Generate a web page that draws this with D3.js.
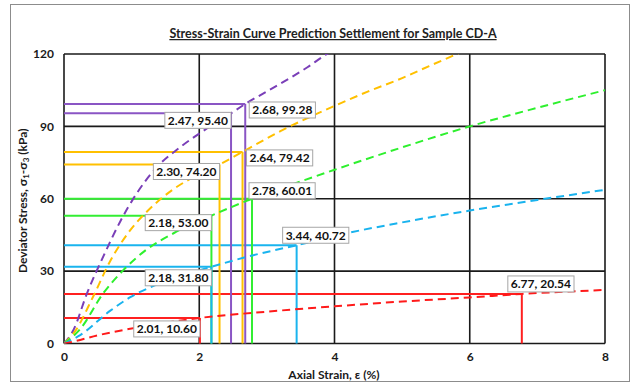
<!DOCTYPE html>
<html>
<head>
<meta charset="utf-8">
<script src="https://cdn.jsdelivr.net/npm/d3@7"></script>
<style>
  html, body { margin: 0; padding: 0; background: #fff; }
  svg { display: block; font-family: Lato, "DejaVu Sans", sans-serif; }
</style>
</head>
<body>
<svg id="chart" width="632" height="384"></svg>
<script>
// Axis ticks
const xTicks = [0, 2, 4, 6, 8];
const yTicks = [0, 30, 60, 90, 120];

// Predicted stress-strain curves (strain %, deviator stress kPa)
const seriesNames = ["purple", "orange", "green", "blue", "red"];
const purpleStrain = [0, 0.14, 0.34, 0.58, 0.83, 1.07, 1.37, 1.7, 2.01, 2.47, 2.68, 3.0, 3.34, 3.6, 3.89, 4.1];
const purpleStress = [0, 5.6, 20.8, 36, 50.5, 62, 73, 81, 87.2, 95.4, 99.28, 104.5, 110, 114.5, 120, 123];
const orangeStrain = [0, 0.16, 0.43, 0.68, 0.98, 1.22, 1.62, 1.95, 2.3, 2.64, 3.2, 4.0, 4.5, 5.0, 5.4, 5.81, 6.1];
const orangeStress = [0, 4.9, 19.4, 34, 47, 54.5, 64, 69.5, 74.2, 79.42, 88, 98.5, 104.5, 110, 115, 120, 123.5];
const greenStrain = [0, 0.24, 0.58, 0.88, 1.2, 1.62, 2.18, 2.78, 3.5, 4.0, 5.0, 6.0, 7.0, 8.0];
const greenStress = [0, 6, 20.8, 30.5, 38.5, 45.7, 53, 60.01, 67.2, 72, 81.3, 90, 97.7, 105];
const blueStrain = [0, 0.24, 0.68, 0.98, 1.5, 2.18, 2.8, 3.44, 4.18, 5.0, 6.0, 7.0, 8.0];
const blueStress = [0, 3.5, 13.5, 19.2, 25.8, 31.8, 36.6, 40.72, 45.7, 50.2, 55.1, 59.5, 63.7];
const redStrain = [0, 0.14, 0.5, 1.0, 1.5, 2.01, 3.0, 4.0, 5.0, 6.0, 6.77, 8.0];
const redStress = [0, 0.8, 3.4, 6.2, 8.6, 10.6, 13.2, 15.4, 17.4, 19.1, 20.54, 22.2];

// Marked points on each curve
const markStrain = [2.68, 2.47, 2.64, 2.30, 2.78, 2.18, 3.44, 2.18, 2.01, 6.77];
const markStress = [99.28, 95.40, 79.42, 74.20, 60.01, 53.00, 40.72, 31.80, 10.60, 20.54];
const markSeries = ["purple", "purple", "orange", "orange", "green", "green", "blue", "blue", "red", "red"];
// label box placement relative to its point: right / left / above
const markPlace = ["right", "left", "right", "left", "aboveR", "left", "above", "leftLow", "leftLow", "above"];

const colors = {
  purple: "#7a3fb8",
  orange: "#ffc000",
  green: "#2ef02e",
  blue: "#19b3ee",
  red: "#ff1a1a"
};
const refColors = {
  purple: "#8a55c4",
  orange: "#ffc000",
  green: "#33ee33",
  blue: "#1ab4ee",
  red: "#ff2020"
};

const curves = {
  purple: d3.zip(purpleStrain, purpleStress),
  orange: d3.zip(orangeStrain, orangeStress),
  green: d3.zip(greenStrain, greenStress),
  blue: d3.zip(blueStrain, blueStress),
  red: d3.zip(redStrain, redStress)
};

const svg = d3.select("#chart");
const plot = { left: 64, right: 605, top: 54, bottom: 343.5 };

const x = d3.scaleLinear().domain([0, 8]).range([plot.left, plot.right]);
const y = d3.scaleLinear().domain([0, 120]).range([plot.bottom, plot.top]);

// outer frame
svg.append("rect").attr("x", 10.5).attr("y", 4.5).attr("width", 619).attr("height", 377)
  .attr("fill", "#fff").attr("stroke", "#8c8c8c").attr("stroke-width", 1);

// title
svg.append("text")
  .attr("x", 333).attr("y", 38)
  .attr("text-anchor", "middle")
  .attr("font-size", 12.5).attr("font-weight", "bold")
  .attr("text-decoration", "underline")
  .attr("fill", "#222")
  .text("Stress-Strain Curve Prediction Settlement for Sample CD-A");

svg.append("defs").append("clipPath").attr("id", "plotClip")
  .append("rect")
  .attr("x", plot.left).attr("y", plot.top)
  .attr("width", plot.right - plot.left).attr("height", plot.bottom - plot.top);

// grid
const grid = svg.append("g");
grid.selectAll("line.v").data(xTicks).join("line")
  .attr("x1", d => x(d)).attr("x2", d => x(d))
  .attr("y1", plot.top).attr("y2", plot.bottom)
  .attr("stroke", "#1a1a1a").attr("stroke-width", 1.6);
grid.selectAll("line.h").data(yTicks).join("line")
  .attr("y1", d => y(d)).attr("y2", d => y(d))
  .attr("x1", plot.left).attr("x2", plot.right)
  .attr("stroke", "#1a1a1a").attr("stroke-width", 1.6);

// axes (labels only)
const xAxis = svg.append("g").attr("transform", `translate(0,${plot.bottom + 7})`)
  .call(d3.axisBottom(x).tickValues(xTicks).tickSize(0).tickPadding(2).tickFormat(d3.format("d")));
const yAxis = svg.append("g").attr("transform", `translate(${plot.left - 10},0)`)
  .call(d3.axisLeft(y).tickValues(yTicks).tickSize(0).tickPadding(0).tickFormat(d3.format("d")));
[xAxis, yAxis].forEach(g => {
  g.select(".domain").remove();
  g.selectAll("text").attr("font-size", 12).attr("font-weight", "bold")
    .attr("fill", "#1a1a1a").attr("font-family", "Lato, 'DejaVu Sans', sans-serif");
});

// axis titles
svg.append("text")
  .attr("x", 334).attr("y", 379)
  .attr("text-anchor", "middle")
  .attr("font-size", 12).attr("font-weight", "bold").attr("fill", "#1a1a1a")
  .text("Axial Strain, ε (%)");

const yTitle = svg.append("text")
  .attr("transform", `translate(27,${(plot.top + plot.bottom) / 2 + 2}) rotate(-90)`)
  .attr("text-anchor", "middle")
  .attr("font-size", 12).attr("font-weight", "bold").attr("fill", "#1a1a1a");
yTitle.append("tspan").text("Deviator Stress, σ");
yTitle.append("tspan").attr("font-size", 8).attr("dy", 2).text("1");
yTitle.append("tspan").attr("dy", -2).text("-σ");
yTitle.append("tspan").attr("font-size", 8).attr("dy", 2).text("3");
yTitle.append("tspan").attr("dy", -2).text(" (kPa)");

const marks = d3.range(markStrain.length).map(i => ({
  e: markStrain[i], s: markStress[i], series: markSeries[i], place: markPlace[i]
}));

// reference lines from each marked point to both axes
const refs = svg.append("g");
refs.selectAll("line.h").data(marks).join("line")
  .attr("x1", plot.left).attr("x2", d => x(d.e))
  .attr("y1", d => y(d.s)).attr("y2", d => y(d.s))
  .attr("stroke", d => refColors[d.series]).attr("stroke-width", 2);
refs.selectAll("line.v").data(marks).join("line")
  .attr("x1", d => x(d.e)).attr("x2", d => x(d.e))
  .attr("y1", d => y(d.s)).attr("y2", plot.bottom)
  .attr("stroke", d => refColors[d.series]).attr("stroke-width", 2);

// dashed prediction curves
const line = d3.line().x(d => x(d[0])).y(d => y(d[1])).curve(d3.curveMonotoneX);
svg.append("g").attr("clip-path", "url(#plotClip)")
  .selectAll("path").data(seriesNames).join("path")
  .attr("d", k => line(curves[k]))
  .attr("fill", "none")
  .attr("stroke", k => colors[k])
  .attr("stroke-width", 2)
  .attr("stroke-dasharray", "8,5");

// value labels
const fmt = d3.format(".2f");
const labels = svg.append("g");
marks.forEach(d => {
  const px = x(d.e), py = y(d.s);
  const g = labels.append("g");
  const t = g.append("text")
    .attr("font-size", 12).attr("font-weight", "bold").attr("fill", "#111")
    .text(`${fmt(d.e)}, ${fmt(d.s)}`);
  const bb = t.node().getBBox();
  const bw = bb.width + 6, bh = 16;
  let bx, by;
  if (d.place === "right") { bx = px + 4; by = py - 2; }
  else if (d.place === "left") { bx = px - bw; by = py - 1; }
  else if (d.place === "aboveR") { bx = px - 3; by = py - bh; }
  else if (d.place === "above") { bx = px - 14; by = py - bh - 2; }
  else { bx = px - bw; by = py + 3; }
  g.insert("rect", "text")
    .attr("x", bx).attr("y", by).attr("width", bw).attr("height", bh)
    .attr("fill", "#fff").attr("stroke", "#a6a6a6").attr("stroke-width", 1);
  t.attr("x", bx + 3).attr("y", by + bh / 2 + 4.3);
});
</script>
</body>
</html>
